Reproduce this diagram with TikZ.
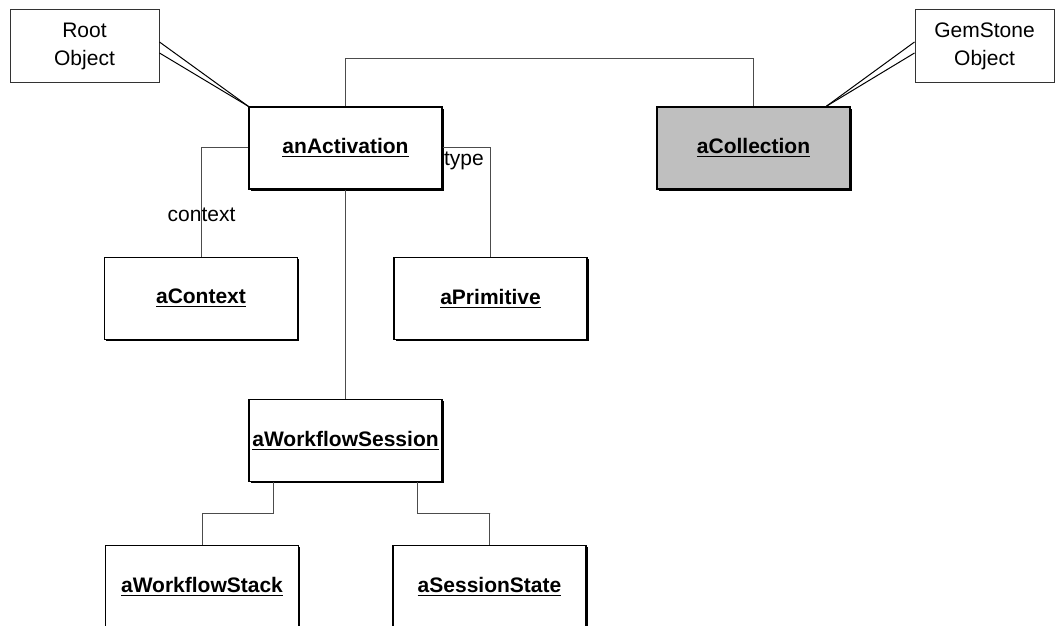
\documentclass[tikz,border=0pt]{standalone}
\usepackage{fontspec}
\setmainfont{Liberation Sans}
\usetikzlibrary{shadows,calc}
\begin{document}
\begin{tikzpicture}[x=0.5pt,y=-0.5pt,
  font=\fontsize{10.5pt}{13.5pt}\selectfont,
  objbox/.style={draw=black, line width=0.7pt, fill=white, rectangle,
    minimum width=96.5pt, minimum height=41pt, inner sep=0pt,
    general shadow={fill=black, shadow xshift=0.8pt, shadow yshift=-0.8pt}},
  notebox/.style={draw=black!80, line width=0.5pt, fill=white, rectangle,
    inner sep=0pt, align=center},
  link/.style={draw=black!70, line width=0.5pt},
  callout/.style={draw=black, line width=0.5pt},
  lbl/.style={inner sep=0pt, font=\fontsize{10.5pt}{13.5pt}\selectfont}]
\useasboundingbox (0,0) rectangle (1055,626);

% object instances
\node[objbox] (act)  at (345.5,148) {\underline{\textbf{anActivation}}};
\node[objbox, fill=black!25] (coll) at (753.5,148) {\underline{\textbf{aCollection}}};
\node[objbox] (ctx)  at (201,298.5) {\underline{\textbf{aContext}}};
\node[objbox] (prim) at (490.5,298.5) {\underline{\textbf{aPrimitive}}};
\node[objbox] (sess) at (345.5,440.5) {\underline{\textbf{aWorkflowSession}}};
\node[objbox] (stack) at (202,586.5) {\underline{\textbf{aWorkflowStack}}};
\node[objbox] (state) at (489.5,586.5) {\underline{\textbf{aSessionState}}};

% notes
\node[notebox, minimum width=74.5pt, minimum height=36.5pt] (root) at (84.5,46.5) {Root\\[0.4pt]Object};
\node[notebox, minimum width=69.5pt, minimum height=36.5pt] (gem) at (984.5,46.5) {GemStone\\[0.4pt]Object};

% note callouts
\coordinate (gemtip) at ([xshift=85pt]coll.north west);
\draw[callout] ([yshift=2.25pt]root.east) -- (act.north west);
\draw[callout] ([yshift=-3.25pt]root.east) -- (act.north west);
\draw[callout] ([yshift=2.25pt]gem.west) -- (gemtip);
\draw[callout] ([yshift=-3.25pt]gem.west) -- (gemtip);

% associations
\draw[link] (act.north) -- ++(0,-48) -| (coll.north);
\draw[link] (act.west) -| (ctx.north);
\draw[link] (act.east) -| (prim.north);
\draw[link] (act.south) -- (sess.south |- sess.north);
\draw[link] ([xshift=-36pt]sess.south) |- ++(-35.75pt,-15.5pt) coordinate (l1) -| (stack.north);
\draw[link] ([xshift=36pt]sess.south) |- ++(36.25pt,-15.5pt) coordinate (r1) -| (state.north);

% role labels
\node[lbl] (ctxlbl) at (201.5,215) {context};
\node[lbl] (typelbl) at (464,161) {type};
\end{tikzpicture}
\end{document}
